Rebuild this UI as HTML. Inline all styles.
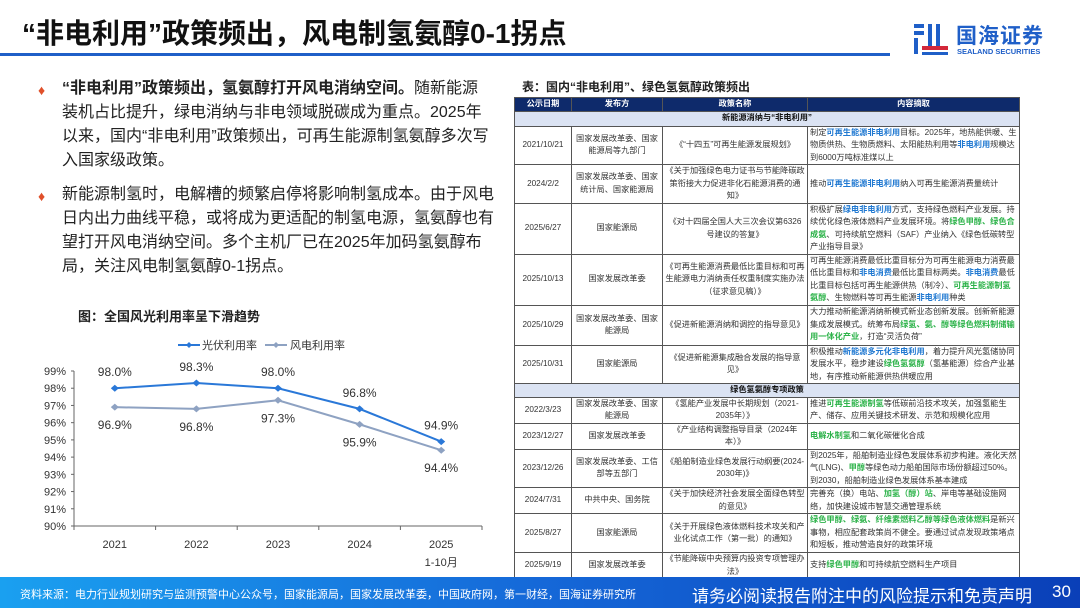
<!DOCTYPE html>
<html><head><meta charset="utf-8">
<style>
*{margin:0;padding:0;box-sizing:border-box}
body{width:1080px;height:608px;position:relative;overflow:hidden;background:#fff;font-family:"Liberation Sans","Noto Sans CJK SC",sans-serif;color:#222}
.abs{position:absolute}
#title{left:22px;top:12px;font-size:28px;font-weight:bold;color:#111;white-space:nowrap}
#hline{left:0;top:53px;width:890px;height:3px;background:#1f5fc8}
.para{left:40px;width:460px;font-size:16px;line-height:24px;color:#222}
.para .dia{position:absolute;top:1px;color:#e0502a;font-size:14px}
.para b{font-weight:bold}
#tbltitle{left:522px;top:78px;font-size:12px;font-weight:bold}
table{position:absolute;left:514px;top:97px;width:505px;border-collapse:collapse;table-layout:fixed;font-size:8.2px;line-height:12.5px}
td,th{border:1px solid #555;text-align:center;vertical-align:middle;padding:0 2px;color:#333}
th{background:#0e2a6b;color:#fff;height:13px;font-weight:bold}
td.c{text-align:left;padding:0 2px}
tr.sub td{background:#dbe3f3;font-weight:bold;height:13px;color:#111}
.bl{color:#1f78d1;font-weight:bold}.gr{color:#2db34a;font-weight:bold}
#footer{left:0;top:577px;width:1080px;height:31px;background:linear-gradient(90deg,#1aa0f0 0%,#1568d8 50%,#0a3fb8 100%)}
#src{left:20px;top:586px;font-size:11px;color:#fff;white-space:nowrap}
#disc{left:692px;top:582px;font-size:17px;color:#fff;white-space:nowrap}
#pno{left:1052px;top:582px;font-size:17px;color:#fff}
</style></head><body>
<div id="title" class="abs">“非电利用”政策频出，风电制氢氨醇0-1拐点</div>
<div id="hline" class="abs"></div>
<div class="abs" style="left:908px;top:20px;width:150px;height:40px">
<svg width="40" height="38" style="position:absolute;left:2px;top:0">
<rect x="4" y="4" width="10" height="4" fill="#1f5fc8"/><rect x="4" y="11" width="10" height="4" fill="#1f5fc8"/><rect x="4" y="18" width="4" height="16" fill="#1f5fc8"/>
<rect x="18" y="4" width="4" height="22" fill="#1f5fc8"/><rect x="26" y="4" width="4" height="22" fill="#1f5fc8"/>
<rect x="12" y="26" width="26" height="4" fill="#d3283a"/><rect x="12" y="32" width="26" height="3" fill="#1f5fc8"/></svg>
<div style="position:absolute;left:48px;top:0;font-size:21px;font-weight:bold;color:#1f5fc8;letter-spacing:1px">国海证券</div>
<div style="position:absolute;left:49px;top:27px;font-size:7.5px;font-weight:bold;color:#1f5fc8">SEALAND SECURITIES</div>
</div>

<div class="abs para" style="top:77px;left:62px;width:432px"><span class="dia" style="left:-24px">♦</span><b>“非电利用”政策频出，氢氨醇打开风电消纳空间。</b>随新能源装机占比提升，绿电消纳与非电领域脱碳成为重点。2025年以来，国内“非电利用”政策频出，可再生能源制氢氨醇多次写入国家级政策。</div>
<div class="abs para" style="top:183px;left:62px;width:432px"><span class="dia" style="left:-24px">♦</span>新能源制氢时，电解槽的频繁启停将影响制氢成本。由于风电日内出力曲线平稳，或将成为更适配的制氢电源，氢氨醇也有望打开风电消纳空间。多个主机厂已在2025年加码氢氨醇布局，关注风电制氢氨醇0-1拐点。</div>

<div class="abs" style="left:78px;top:306px;font-size:13px;font-weight:bold">图：全国风光利用率呈下滑趋势</div>
<svg id="chart" class="abs" style="left:0;top:330px" width="500" height="245"></svg>

<div id="tbltitle" class="abs">表：国内“非电利用”、绿色氢氨醇政策频出</div>
<table>
<colgroup><col style="width:57px"><col style="width:91px"><col style="width:145px"><col style="width:212px"></colgroup>
<tr><th>公示日期</th><th>发布方</th><th>政策名称</th><th>内容摘取</th></tr>
<tr class="sub"><td colspan="4" style="height:15px">新能源消纳与“非电利用”</td></tr>
<tr style="height:38px"><td>2021/10/21</td><td>国家发展改革委、国家能源局等九部门</td><td>《“十四五”可再生能源发展规划》</td><td class="c">制定<span class="bl">可再生能源非电利用</span>目标。2025年，地热能供暖、生物质供热、生物质燃料、太阳能热利用等<span class="bl">非电利用</span>规模达到6000万吨标准煤以上</td></tr>
<tr style="height:38px"><td>2024/2/2</td><td>国家发展改革委、国家统计局、国家能源局</td><td>《关于加强绿色电力证书与节能降碳政策衔接大力促进非化石能源消费的通知》</td><td class="c">推动<span class="bl">可再生能源非电利用</span>纳入可再生能源消费量统计</td></tr>
<tr style="height:50px"><td>2025/6/27</td><td>国家能源局</td><td>《对十四届全国人大三次会议第6326号建议的答复》</td><td class="c">积极扩展<span class="bl">绿电非电利用</span>方式，支持绿色燃料产业发展。持续优化绿色液体燃料产业发展环境。将<span class="gr">绿色甲醇、绿色合成氨</span>、可持续航空燃料（SAF）产业纳入《绿色低碳转型产业指导目录》</td></tr>
<tr style="height:51px"><td>2025/10/13</td><td>国家发展改革委</td><td>《可再生能源消费最低比重目标和可再生能源电力消纳责任权重制度实施办法（征求意见稿）》</td><td class="c">可再生能源消费最低比重目标分为可再生能源电力消费最低比重目标和<span class="bl">非电消费</span>最低比重目标两类。<span class="bl">非电消费</span>最低比重目标包括可再生能源供热（制冷）、<span class="gr">可再生能源制氢氨醇</span>、生物燃料等可再生能源<span class="bl">非电利用</span>种类</td></tr>
<tr style="height:40px"><td>2025/10/29</td><td>国家发展改革委、国家能源局</td><td>《促进新能源消纳和调控的指导意见》</td><td class="c">大力推动新能源消纳新模式新业态创新发展。创新新能源集成发展模式。统筹布局<span class="gr">绿氢、氨、醇等绿色燃料制储输用一体化产业</span>，打造“灵活负荷”</td></tr>
<tr style="height:38px"><td>2025/10/31</td><td>国家能源局</td><td>《促进新能源集成融合发展的指导意见》</td><td class="c">积极推动<span class="bl">新能源多元化非电利用</span>，着力提升风光氢储协同发展水平，稳步建设<span class="gr">绿色氢氨醇</span>（氢基能源）综合产业基地，有序推动新能源供热供暖应用</td></tr>
<tr class="sub"><td colspan="4">绿色氢氨醇专项政策</td></tr>
<tr style="height:26px"><td>2022/3/23</td><td>国家发展改革委、国家能源局</td><td>《氢能产业发展中长期规划（2021-2035年）》</td><td class="c">推进<span class="gr">可再生能源制氢</span>等低碳前沿技术攻关，加强氢能生产、储存、应用关键技术研发、示范和规模化应用</td></tr>
<tr style="height:25px"><td>2023/12/27</td><td>国家发展改革委</td><td>《产业结构调整指导目录（2024年本）》</td><td class="c"><span class="gr">电解水制氢</span>和二氧化碳催化合成</td></tr>
<tr style="height:38px"><td>2023/12/26</td><td>国家发展改革委、工信部等五部门</td><td>《船舶制造业绿色发展行动纲要(2024-2030年)》</td><td class="c">到2025年，船舶制造业绿色发展体系初步构建。液化天然气(LNG)、<span class="gr">甲醇</span>等绿色动力船舶国际市场份额超过50%。到2030，船舶制造业绿色发展体系基本建成</td></tr>
<tr style="height:25px"><td>2024/7/31</td><td>中共中央、国务院</td><td>《关于加快经济社会发展全面绿色转型的意见》</td><td class="c">完善充（换）电站、<span class="gr">加氢（醇）站</span>、岸电等基础设施网络，加快建设城市智慧交通管理系统</td></tr>
<tr style="height:39px"><td>2025/8/27</td><td>国家能源局</td><td>《关于开展绿色液体燃料技术攻关和产业化试点工作（第一批）的通知》</td><td class="c"><span class="gr">绿色甲醇、绿氨、纤维素燃料乙醇等绿色液体燃料</span>是新兴事物，相应配套政策尚不健全。要通过试点发现政策堵点和短板，推动营造良好的政策环境</td></tr>
<tr style="height:25px"><td>2025/9/19</td><td>国家发展改革委</td><td>《节能降碳中央预算内投资专项管理办法》</td><td class="c">支持<span class="gr">绿色甲醇</span>和可持续航空燃料生产项目</td></tr>
</table>

<div id="footer" class="abs"></div>
<div id="src" class="abs">资料来源：电力行业规划研究与监测预警中心公众号，国家能源局，国家发展改革委，中国政府网，第一财经，国海证券研究所</div>
<div id="disc" class="abs">请务必阅读报告附注中的风险提示和免责声明</div>
<div id="pno" class="abs">30</div>

<script>
const categories=["2021","2022","2023","2024","2025"];
const catSub=["","","","","1-10月"];
const pvValues=[98.0,98.3,98.0,96.8,94.9];
const windValues=[96.9,96.8,97.3,95.9,94.4];
const yTicks=[90,91,92,93,94,95,96,97,98,99];
const svg=document.getElementById('chart');
const NS='http://www.w3.org/2000/svg';
const OY=330;
const x0=74,x1=482,yTop=371-OY,yBot=526-OY,yMin=90,yMax=99;
const band=(x1-x0)/categories.length;
const xs=i=>x0+band*(i+0.5);
const ys=v=>yBot-(v-yMin)/(yMax-yMin)*(yBot-yTop);
function mk(tag,attrs,parent){const e=document.createElementNS(NS,tag);for(const k in attrs)e.setAttribute(k,attrs[k]);(parent||svg).appendChild(e);return e;}
function txt(x,y,s,anchor,size){const t=mk('text',{x:x,y:y,'text-anchor':anchor||'middle','font-size':size||11,fill:'#333','font-family':'Liberation Sans, Noto Sans CJK SC, sans-serif'});t.textContent=s;return t;}
const ya=mk('line',{x1:x0,y1:yTop,x2:x0,y2:yBot,stroke:'#666'});


const xa=mk('line',{x1:x0,y1:yBot,x2:x1,y2:yBot,stroke:'#666'});


yTicks.forEach(v=>{mk('line',{x1:x0-3,y1:ys(v),x2:x0,y2:ys(v),stroke:'#666'});
const t=txt(x0-8,ys(v)+4,v+'%','end',11);

});
for(let i=0;i<=categories.length;i++)mk('line',{x1:x0+band*i,y1:yBot,x2:x0+band*i,y2:yBot+4,stroke:'#666'});
categories.forEach((c,i)=>{const t=txt(xs(i),yBot+22,c,'middle',11);


if(catSub[i]){const s=txt(xs(i),yBot+40,catSub[i],'middle',11);

}});
function series(vals,color,name,above){
const p=mk('polyline',{points:vals.map((v,i)=>xs(i)+','+ys(v)).join(' '),fill:'none',stroke:color,'stroke-width':2});


vals.forEach((v,i)=>{const m=mk('path',{d:`M${xs(i)-4},${ys(v)} L${xs(i)},${ys(v)-3.5} L${xs(i)+4},${ys(v)} L${xs(i)},${ys(v)+3.5}Z`,fill:color});


const l=txt(xs(i),above(i)?ys(v)-12:ys(v)+22,v.toFixed(1)+'%','middle',12);

});}
series(pvValues,'#2a78d8','pv',i=>true);
series(windValues,'#8ea2c2','wind',i=>false);
const lg=mk('g',{});


mk('line',{x1:178,y1:15,x2:200,y2:15,stroke:'#2a78d8','stroke-width':2},lg);
mk('path',{d:'M186,15 l3,-3 l3,3 l-3,3z',fill:'#2a78d8'},lg);
const l1=mk('text',{x:202,y:19,'font-size':11,fill:'#333'},lg);l1.textContent='光伏利用率';
mk('line',{x1:265,y1:15,x2:287,y2:15,stroke:'#8ea2c2','stroke-width':2},lg);
mk('path',{d:'M273,15 l3,-3 l3,3 l-3,3z',fill:'#8ea2c2'},lg);
const l2=mk('text',{x:290,y:19,'font-size':11,fill:'#333'},lg);l2.textContent='风电利用率';
</script>
</body></html>
